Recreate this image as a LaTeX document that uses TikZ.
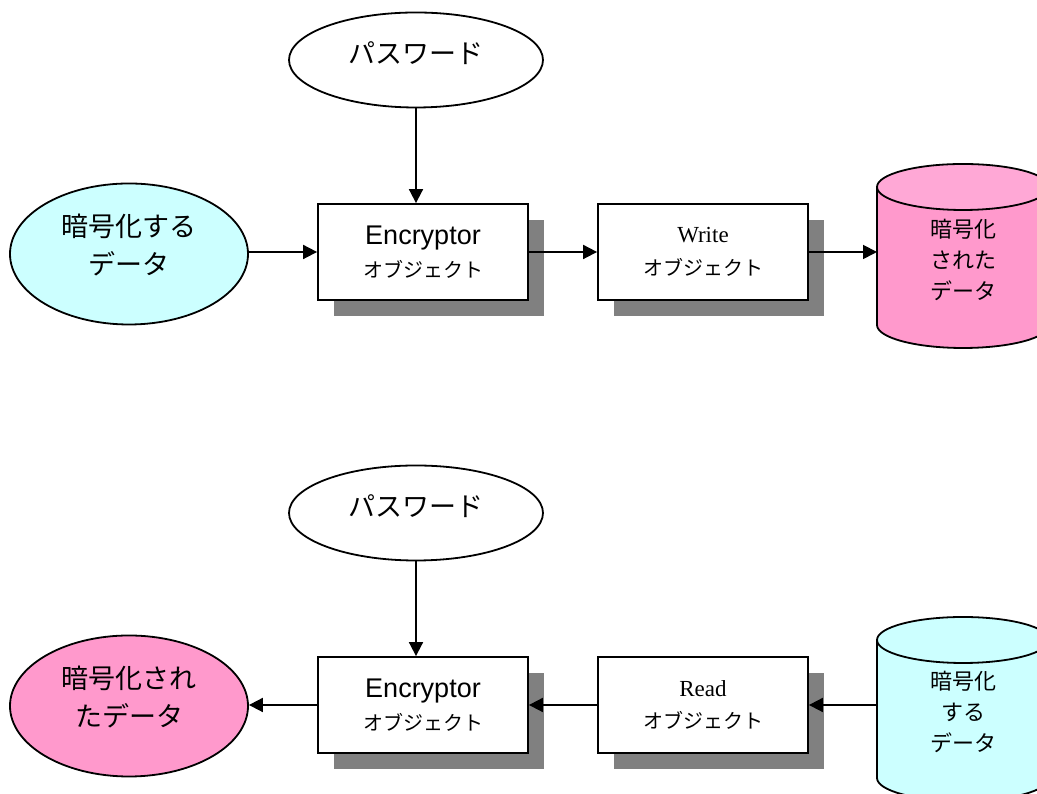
\documentclass[tikz,border=0pt]{standalone}
\usepackage{fontspec}
\setmainfont{Liberation Serif}
\newfontfamily\jpfont{Noto Sans CJK JP}
\newfontfamily\arialfont{Liberation Sans}
\usepackage{tikz}
\usetikzlibrary{arrows.meta, shapes.geometric, shadows}

\definecolor{datapink}{HTML}{FF99CC}
\definecolor{datapinktop}{HTML}{FFA8D6}
\definecolor{datacyan}{HTML}{CCFFFF}
\definecolor{shadowgray}{HTML}{808080}

\tikzset{
  conn/.style={line width=1.8pt, -{Triangle[length=14pt, width=14pt]}},
  pwnode/.style={ellipse, draw, line width=1.8pt, minimum width=254pt, minimum height=95pt,
    inner sep=0pt, text depth=14pt, font=\jpfont\fontsize{27}{30}\selectfont},
  datanode/.style={ellipse, draw, line width=1.8pt, minimum width=238pt, minimum height=141pt,
    inner sep=0pt, text depth=20pt, align=center, font=\jpfont\fontsize{27}{38}\selectfont},
  objbox/.style={rectangle, draw, fill=white, line width=1.8pt, minimum width=210pt,
    minimum height=96pt, align=center,
    drop shadow={shadow xshift=16pt, shadow yshift=-16pt, fill=shadowgray, opacity=1}},
  cyltext/.style={align=center, font=\jpfont\fontsize{22}{31}\selectfont},
}

\begin{document}
\begin{tikzpicture}[x=1pt, y=1pt]
  \useasboundingbox (0,0) rectangle (1037,794);
  \clip (0,0) rectangle (1037,794);

  % --- encryption (top row)
  \node[pwnode] (pw1) at (416,734) {パスワード};
  \node[datanode, fill=datacyan] (data1) at (129,540) {暗号化する\\データ};
  \node[objbox] (enc1) at (423,542)
    {{\arialfont\fontsize{27}{30}\selectfont Encryptor}\\[9pt]{\jpfont\fontsize{20}{24}\selectfont オブジェクト}};
  \node[objbox] (wr1) at (703,542)
    {{\fontsize{23}{26}\selectfont Write}\\[14pt]{\jpfont\fontsize{20}{24}\selectfont オブジェクト}};
  % cylinder
  \fill[datapink] (877,607) -- (877,469) arc[start angle=180, end angle=360, x radius=86, y radius=23]
    -- (1049,607) -- cycle;
  \draw[line width=1.8pt] (877,607) -- (877,469) arc[start angle=180, end angle=360, x radius=86, y radius=23]
    -- (1049,607);
  \draw[line width=1.8pt, fill=datapinktop] (963,607) ellipse[x radius=86, y radius=23];
  \node[cyltext] (cyl1) at (963,534) {暗号化\\された\\データ};
  \coordinate (cyl1w) at (877,542);

  \draw[conn] (pw1.south) -- (pw1.south |- enc1.north);
  \draw[conn] (data1.east |- enc1.west) -- (enc1.west);
  \draw[conn] (enc1.east) -- (wr1.west);
  \draw[conn] (wr1.east) -- (cyl1w);

  % --- decryption (bottom row)
  \node[pwnode] (pw2) at (416,281) {パスワード};
  \node[datanode, fill=datapink] (data2) at (129,88) {暗号化され\\たデータ};
  \node[objbox] (enc2) at (423,89)
    {{\arialfont\fontsize{27}{30}\selectfont Encryptor}\\[9pt]{\jpfont\fontsize{20}{24}\selectfont オブジェクト}};
  \node[objbox] (rd2) at (703,89)
    {{\fontsize{23}{26}\selectfont Read}\\[14pt]{\jpfont\fontsize{20}{24}\selectfont オブジェクト}};
  % cylinder
  \fill[datacyan] (877,154) -- (877,16) arc[start angle=180, end angle=360, x radius=86, y radius=23]
    -- (1049,154) -- cycle;
  \draw[line width=1.8pt] (877,154) -- (877,16) arc[start angle=180, end angle=360, x radius=86, y radius=23]
    -- (1049,154);
  \draw[line width=1.8pt, fill=datacyan] (963,154) ellipse[x radius=86, y radius=23];
  \node[cyltext] (cyl2) at (963,82) {暗号化\\する\\データ};
  \coordinate (cyl2w) at (877,89);

  \draw[conn] (pw2.south) -- (pw2.south |- enc2.north);
  \draw[conn] (enc2.west) -- (data2.east |- enc2.west);
  \draw[conn] (rd2.west) -- (enc2.east);
  \draw[conn] (cyl2w) -- (rd2.east);
\end{tikzpicture}
\end{document}
